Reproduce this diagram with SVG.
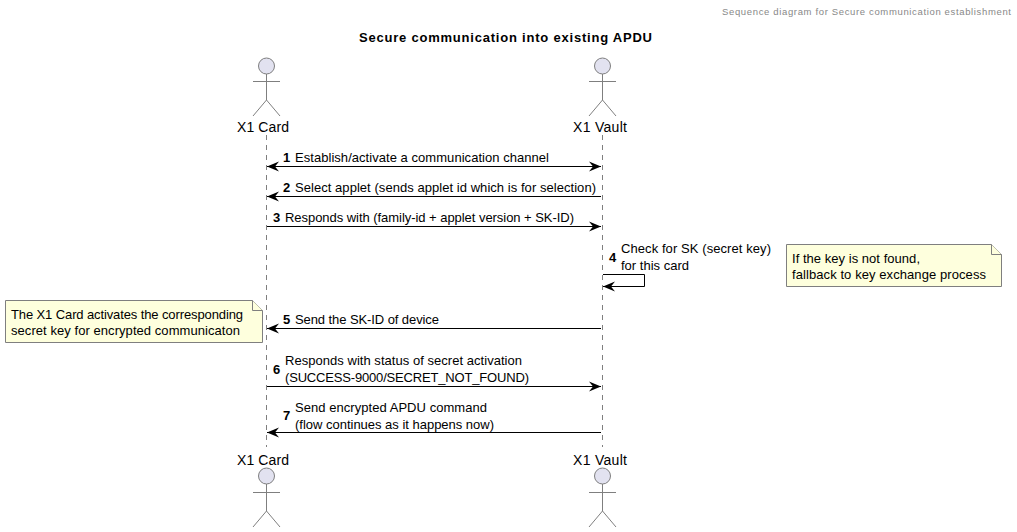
<svg xmlns="http://www.w3.org/2000/svg" width="1017" height="532" viewBox="0 0 1017 532">
<style>
text{font-family:"Liberation Sans",Arial,sans-serif;font-size:13px;fill:#000}
.title{font-weight:bold}
.head{font-size:9.5px;fill:#888}
.num{font-weight:bold}
.name{font-size:14px}
.actor circle{fill:#E2E2F0;stroke:#7f7f7f;stroke-width:1}
.actor path{fill:none;stroke:#7f7f7f;stroke-width:1}
.life{stroke:#7f7f7f;stroke-width:1;stroke-dasharray:5 5;fill:none}
.msg{stroke:#000;stroke-width:1;fill:none}
.note path{fill:#FEFFDD;stroke:#7f7f7f;stroke-width:1}
</style>
<defs>
<marker id="end" markerUnits="userSpaceOnUse" markerWidth="13" markerHeight="12" refX="12" refY="6" orient="auto-start-reverse"><path d="M0 1L12 6L0 11L4 6Z" fill="#000"/></marker>
</defs>
<text class="head" x="722" y="15" textLength="289">Sequence diagram for Secure communication establishment</text>
<text class="title" x="359" y="42" textLength="293">Secure communication into existing APDU</text>
<g id="connectors">
<path class="life" d="M266.500 135V447"/>
<path class="life" d="M602.500 135V447"/>
<path class="msg" d="M267 166.500H601" marker-start="url(#end)" marker-end="url(#end)"/>
<path class="msg" d="M601 196.500H267" marker-end="url(#end)"/>
<path class="msg" d="M267 226.500H601" marker-end="url(#end)"/>
<path class="msg" d="M603 274.500H644.500V286.500H603" marker-end="url(#end)"/>
<path class="msg" d="M601 328.500H267" marker-end="url(#end)"/>
<path class="msg" d="M267 386.500H601" marker-end="url(#end)"/>
<path class="msg" d="M601 432.500H267" marker-end="url(#end)"/>
</g>
<g id="actor-card-top" class="actor"><circle cx="266.500" cy="66" r="8"/><path d="M266.500 74V100M253 81.500H280M266.500 100L253 116M266.500 100L280 116"/><text class="name" x="237" y="132" textLength="52">X1 Card</text></g>
<g id="actor-vault-top" class="actor"><circle cx="602.500" cy="66" r="8"/><path d="M602.500 74V100M589 81.500H616M602.500 100L589 116M602.500 100L616 116"/><text class="name" x="573" y="132" textLength="54">X1 Vault</text></g>
<g id="actor-card-bottom" class="actor"><text class="name" x="237" y="465" textLength="52">X1 Card</text><circle cx="266.500" cy="476" r="8"/><path d="M266.500 484V511M253 492.500H280M266.500 511L253 527M266.500 511L280 527"/></g>
<g id="actor-vault-bottom" class="actor"><text class="name" x="573" y="465" textLength="54">X1 Vault</text><circle cx="602.500" cy="476" r="8"/><path d="M602.500 484V511M589 492.500H616M602.500 511L589 527M602.500 511L616 527"/></g>
<g id="labels">
<text class="num" x="283" y="162">1</text><text x="295" y="162" textLength="254">Establish/activate a communication channel</text>
<text class="num" x="283" y="192">2</text><text x="295" y="192" textLength="301">Select applet (sends applet id which is for selection)</text>
<text class="num" x="273" y="222">3</text><text x="285" y="222" textLength="289">Responds with (family-id + applet version + SK-ID)</text>
<text class="num" x="609" y="262">4</text><text x="621" y="253" textLength="150">Check for SK (secret key)</text><text x="621" y="270" textLength="68">for this card</text>
<text class="num" x="283" y="324">5</text><text x="295" y="324" textLength="144">Send the SK-ID of device</text>
<text class="num" x="273" y="374">6</text><text x="285" y="365" textLength="237">Responds with status of secret activation</text><text x="285" y="382" textLength="244">(SUCCESS-9000/SECRET_NOT_FOUND)</text>
<text class="num" x="283" y="420">7</text><text x="295" y="412" textLength="192">Send encrypted APDU command</text><text x="295" y="429" textLength="199">(flow continues as it happens now)</text>
</g>
<g id="note-fallback" class="note"><path d="M786.500 244.500H991.500L1001.500 254.500V286.500H786.500Z"/><path d="M991.500 244.500V254.500H1001.500"/><text x="792" y="263" textLength="128">If the key is not found,</text><text x="792" y="279" textLength="194">fallback to key exchange process</text></g>
<g id="note-activate" class="note"><path d="M5.500 300.500H252.500L262.500 310.500V342.500H5.500Z"/><path d="M252.500 300.500V310.500H262.500"/><text x="11" y="319" textLength="232">The X1 Card activates the corresponding</text><text x="11" y="335" textLength="229">secret key for encrypted communicaton</text></g>
</svg>
